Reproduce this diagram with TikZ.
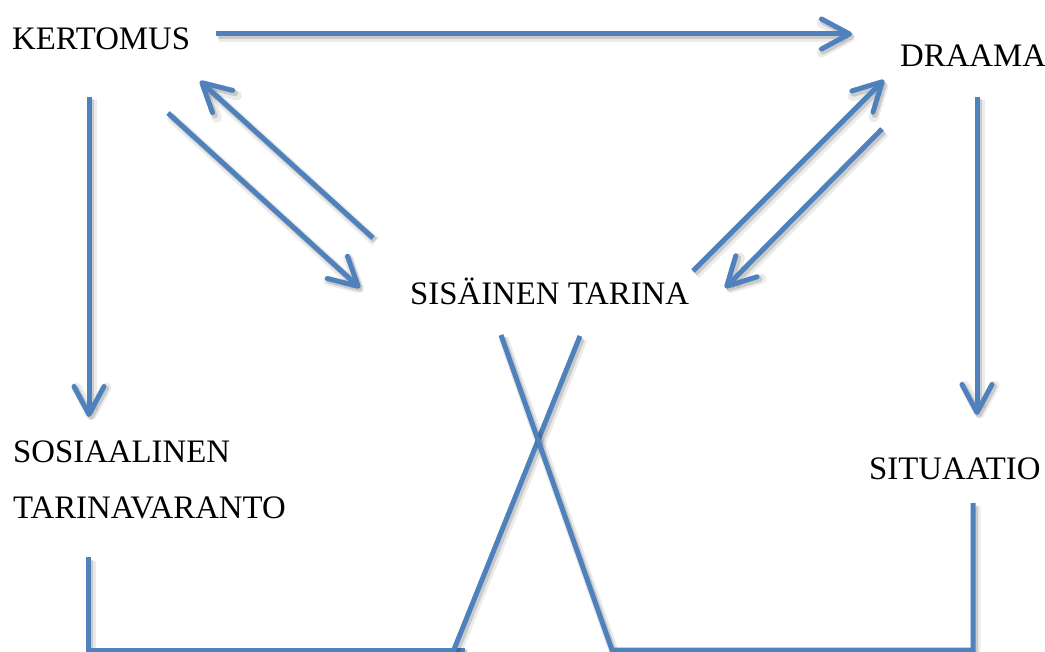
\documentclass[tikz,border=0pt]{standalone}
\usepackage{fontspec}
\setmainfont{Liberation Serif}
\usetikzlibrary{arrows.meta}
\definecolor{lineblue}{RGB}{79,129,189}
\begin{document}
\begin{tikzpicture}[x=1pt,y=-1pt,
  lbl/.style={inner sep=0pt, anchor=base west, font=\fontsize{32.8}{38}\selectfont},
  conn/.style={draw=lineblue, line width=5pt,
    preaction={draw=black, draw opacity=0.08, line width=10pt, transform canvas={shift={(2.5,3.5)}}},
    preaction={draw=black, draw opacity=0.14, line width=6pt, transform canvas={shift={(2,2.5)}}}},
  arr/.style={conn, -{Straight Barb[length=28pt,width=30pt,round]}},
]
\useasboundingbox (0,0) rectangle (1045,652);

% labels
\node[lbl] (kert) at (12,50) {KERTOMUS};
\node[lbl] (draama) at (900,67) {DRAAMA};
\node[lbl] (sis) at (410,305) {SISÄINEN TARINA};
\node[lbl] (sos) at (13,463) {SOSIAALINEN};
\node[lbl] (tar) at (13,518) {TARINAVARANTO};
\node[lbl] (sit) at (869,479) {SITUAATIO};

% connector end points
\coordinate (kdA) at (216,34);   \coordinate (kdB) at (852,34);
\coordinate (ksA) at (89,97);    \coordinate (ksB) at (89,417);
\coordinate (kiA) at (168,113);  \coordinate (kiB) at (360,288);
\coordinate (ikA) at (373,238);  \coordinate (ikB) at (200,81);
\coordinate (idA) at (693,271);  \coordinate (idB) at (884,80);
\coordinate (diA) at (882,129);  \coordinate (diB) at (725,288);
\coordinate (dsA) at (977,97);   \coordinate (dsB) at (977,415);
% bottom
\coordinate (blA) at (88,557);   \coordinate (blC) at (88,650);  \coordinate (blD) at (465,650);
\coordinate (xA) at (580,336);   \coordinate (xB) at (453,652);
\coordinate (yA) at (501,335);   \coordinate (yB) at (612,650);
\coordinate (brC) at (973,650);  \coordinate (brA) at (973,503);

% arrows
\draw[arr] (kdA) -- (kdB);
\draw[arr] (ksA) -- (ksB);
\draw[arr] (kiA) -- (kiB);
\draw[arr] (ikA) -- (ikB);
\draw[arr] (idA) -- (idB);
\draw[arr] (diA) -- (diB);
\draw[arr] (dsA) -- (dsB);

% bottom lines
\draw[conn] (blA) -- (blC) -- (blD);
\draw[conn] (xA) -- (xB);
\draw[conn] (yA) -- (yB) -- (brC) -- (brA);
\end{tikzpicture}
\end{document}
